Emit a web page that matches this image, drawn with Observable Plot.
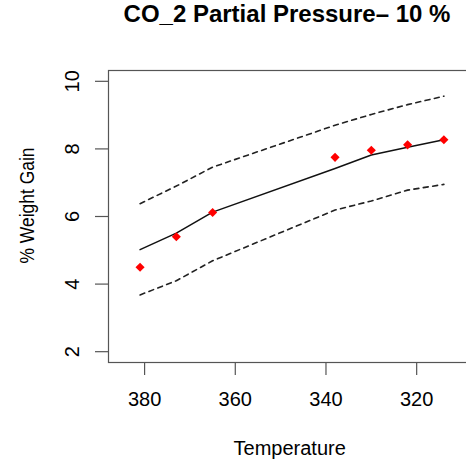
<!DOCTYPE html>
<html>
<head>
<meta charset="utf-8">
<script src="https://cdn.jsdelivr.net/npm/d3@7"></script>
<script src="https://cdn.jsdelivr.net/npm/@observablehq/plot@0.6"></script>
<style>
  html, body { margin: 0; padding: 0; overflow: hidden; background: #fff; }
  #title { height: 40px; line-height: 48px; width: 358px; padding-left: 108px; text-align: center;
           font: bold 24px "Liberation Sans", Arial, sans-serif; color: #000; white-space: nowrap; overflow: visible; }
  #chart svg { max-width: none !important; display: block; }
</style>
</head>
<body>
<div id="title">CO_2 Partial Pressure– 10 %</div>
<div id="chart"></div>
<script>
const temps    = [381, 373, 365, 338, 330, 322, 314];
const observed = [4.50, 5.40, 6.12, 7.75, 7.96, 8.12, 8.27];
const fitted   = [5.02, 5.51, 6.13, 7.42, 7.82, 8.05, 8.27];
const upper    = [6.38, 6.90, 7.46, 8.70, 9.02, 9.31, 9.56];
const lower    = [3.68, 4.10, 4.69, 6.19, 6.46, 6.78, 6.95];
const xTicks = [380, 360, 340, 320];
const yTicks = [2, 4, 6, 8, 10];
const xLabel = "Temperature";
const yLabel = "% Weight Gain";

const rows = temps.map((t, i) => ({t, obs: observed[i], fit: fitted[i], up: upper[i], lo: lower[i]}));
const font = "'Liberation Sans', Arial, sans-serif";
const axisColor = "#555";

const chart = Plot.plot({
  width: 480,
  height: 420,
  marginLeft: 108,
  marginRight: 9.6,
  marginTop: 30,
  marginBottom: 98,
  style: {fontFamily: font, fontSize: "20px", color: "#000", background: "#fff", maxWidth: "none"},
  x: {domain: [387.96, 308.04], axis: null},
  y: {domain: [1.68, 10.32], axis: null},
  marks: [
    Plot.frame({stroke: axisColor, strokeWidth: 1.2}),
    Plot.axisX(xTicks, {tickSize: 13, tickPadding: 16, stroke: axisColor, strokeWidth: 1.2, fontSize: 20, fill: "#000", label: null, tickFormat: d => String(d)}),
    Plot.axisY(yTicks, {tickSize: 13, stroke: axisColor, strokeWidth: 1.2, label: null, tickFormat: () => ""}),
    Plot.text(yTicks, {y: d => d, text: d => String(d), frameAnchor: "left", dx: -36, rotate: -90, fontSize: 20, fill: "#000", lineAnchor: "middle", textAnchor: "middle"}),
    Plot.text([xLabel], {frameAnchor: "bottom", dy: 78, lineAnchor: "top", fontSize: 20, fill: "#000"}),
    Plot.text([yLabel], {frameAnchor: "left", dx: -81, dy: -11, rotate: -90, lineAnchor: "middle", textAnchor: "middle", fontSize: 21, fill: "#000", className: "ylab"}),
    Plot.line(rows, {x: "t", y: "up", stroke: "#222", strokeWidth: 1.6, strokeDasharray: "5,4.5"}),
    Plot.line(rows, {x: "t", y: "lo", stroke: "#222", strokeWidth: 1.6, strokeDasharray: "5,4.5"}),
    Plot.line(rows, {x: "t", y: "fit", stroke: "#111", strokeWidth: 1.5}),
    Plot.dot(rows, {x: "t", y: "obs", symbol: "diamond2", r: 4.1, fill: "#ff0000", stroke: "none"})
  ]
});
chart.querySelectorAll(".ylab text").forEach(t => {
  t.setAttribute("textLength", "116");
  t.setAttribute("lengthAdjust", "spacingAndGlyphs");
});
document.getElementById("chart").appendChild(chart);
</script>
</body>
</html>
